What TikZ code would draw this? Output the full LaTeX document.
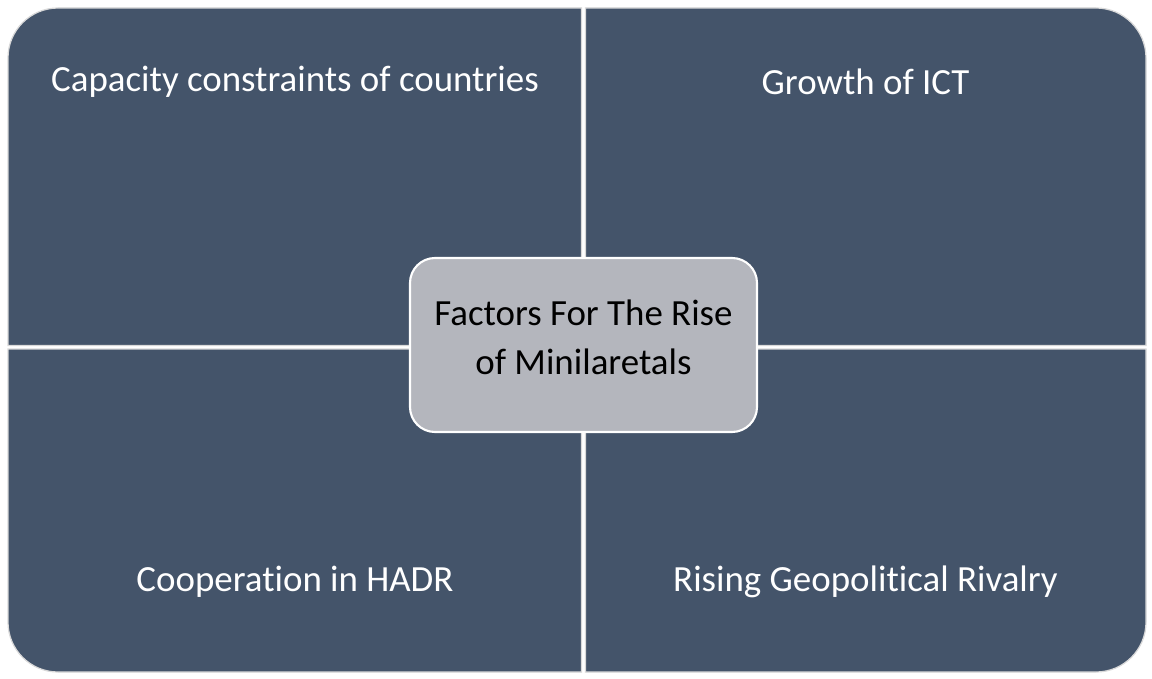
\documentclass[tikz,border=0pt]{standalone}
\usepackage{fontspec}
\setmainfont{Carlito}[Ligatures=NoCommon]
\usepackage{xcolor}
\usepackage{tikz}
\usetikzlibrary{positioning,shapes.geometric}

\definecolor{slate}{HTML}{44546A}
\definecolor{hubgray}{HTML}{B4B6BD}
\definecolor{rimgray}{HTML}{D9D9D9}

\begin{document}
\begin{tikzpicture}[
    quad/.style={fill=slate, draw=rimgray, line width=0.7pt},
    label/.style={text=white, font=\fontsize{21}{25}\selectfont, anchor=center},
    hub/.style={draw=white, line width=1.2pt, fill=hubgray, rounded corners=0.5cm,
        minimum width=6.94cm, minimum height=3.48cm},
    hubtext/.style={align=center, font=\fontsize{21}{27.8}\selectfont}]
    \useasboundingbox (0,0) rectangle (23.04,13.56);
    \fill[white] (0,0) rectangle (23.04,13.56);

    % Quadrants
    \draw[quad] (11.63,6.65) -- (0.16,6.65) -- (0.16,12.40) arc[start angle=180, end angle=90, radius=1] -- (11.63,13.40) -- cycle;
    \draw[quad] (11.71,6.65) -- (11.71,13.40) -- (21.92,13.40) arc[start angle=90, end angle=0, radius=1] -- (22.92,6.65) -- cycle;
    \draw[quad] (11.63,6.58) -- (0.16,6.58) -- (0.16,1.12) arc[start angle=180, end angle=270, radius=1] -- (11.63,0.12) -- cycle;
    \draw[quad] (11.71,6.58) -- (11.71,0.12) -- (21.92,0.12) arc[start angle=270, end angle=360, radius=1] -- (22.92,6.58) -- cycle;

    % Nodes
    \node[label] (capacity) at (5.90,11.92) {Capacity constraints of countries};
    \node[label] (ict) at (17.31,11.92) {Growth of ICT};
    \node[label] (hadr) at (5.90,1.92) {Cooperation in HADR};
    \node[label] (rivalry) at (17.31,1.92) {Rising Geopolitical Rivalry};
    \node[hub] (hub) at (11.67,6.66) {};
    \node[hubtext] (title) at ([yshift=0.16cm]hub.center) {Factors For The Rise\\of Minilaretals};
\end{tikzpicture}
\end{document}
